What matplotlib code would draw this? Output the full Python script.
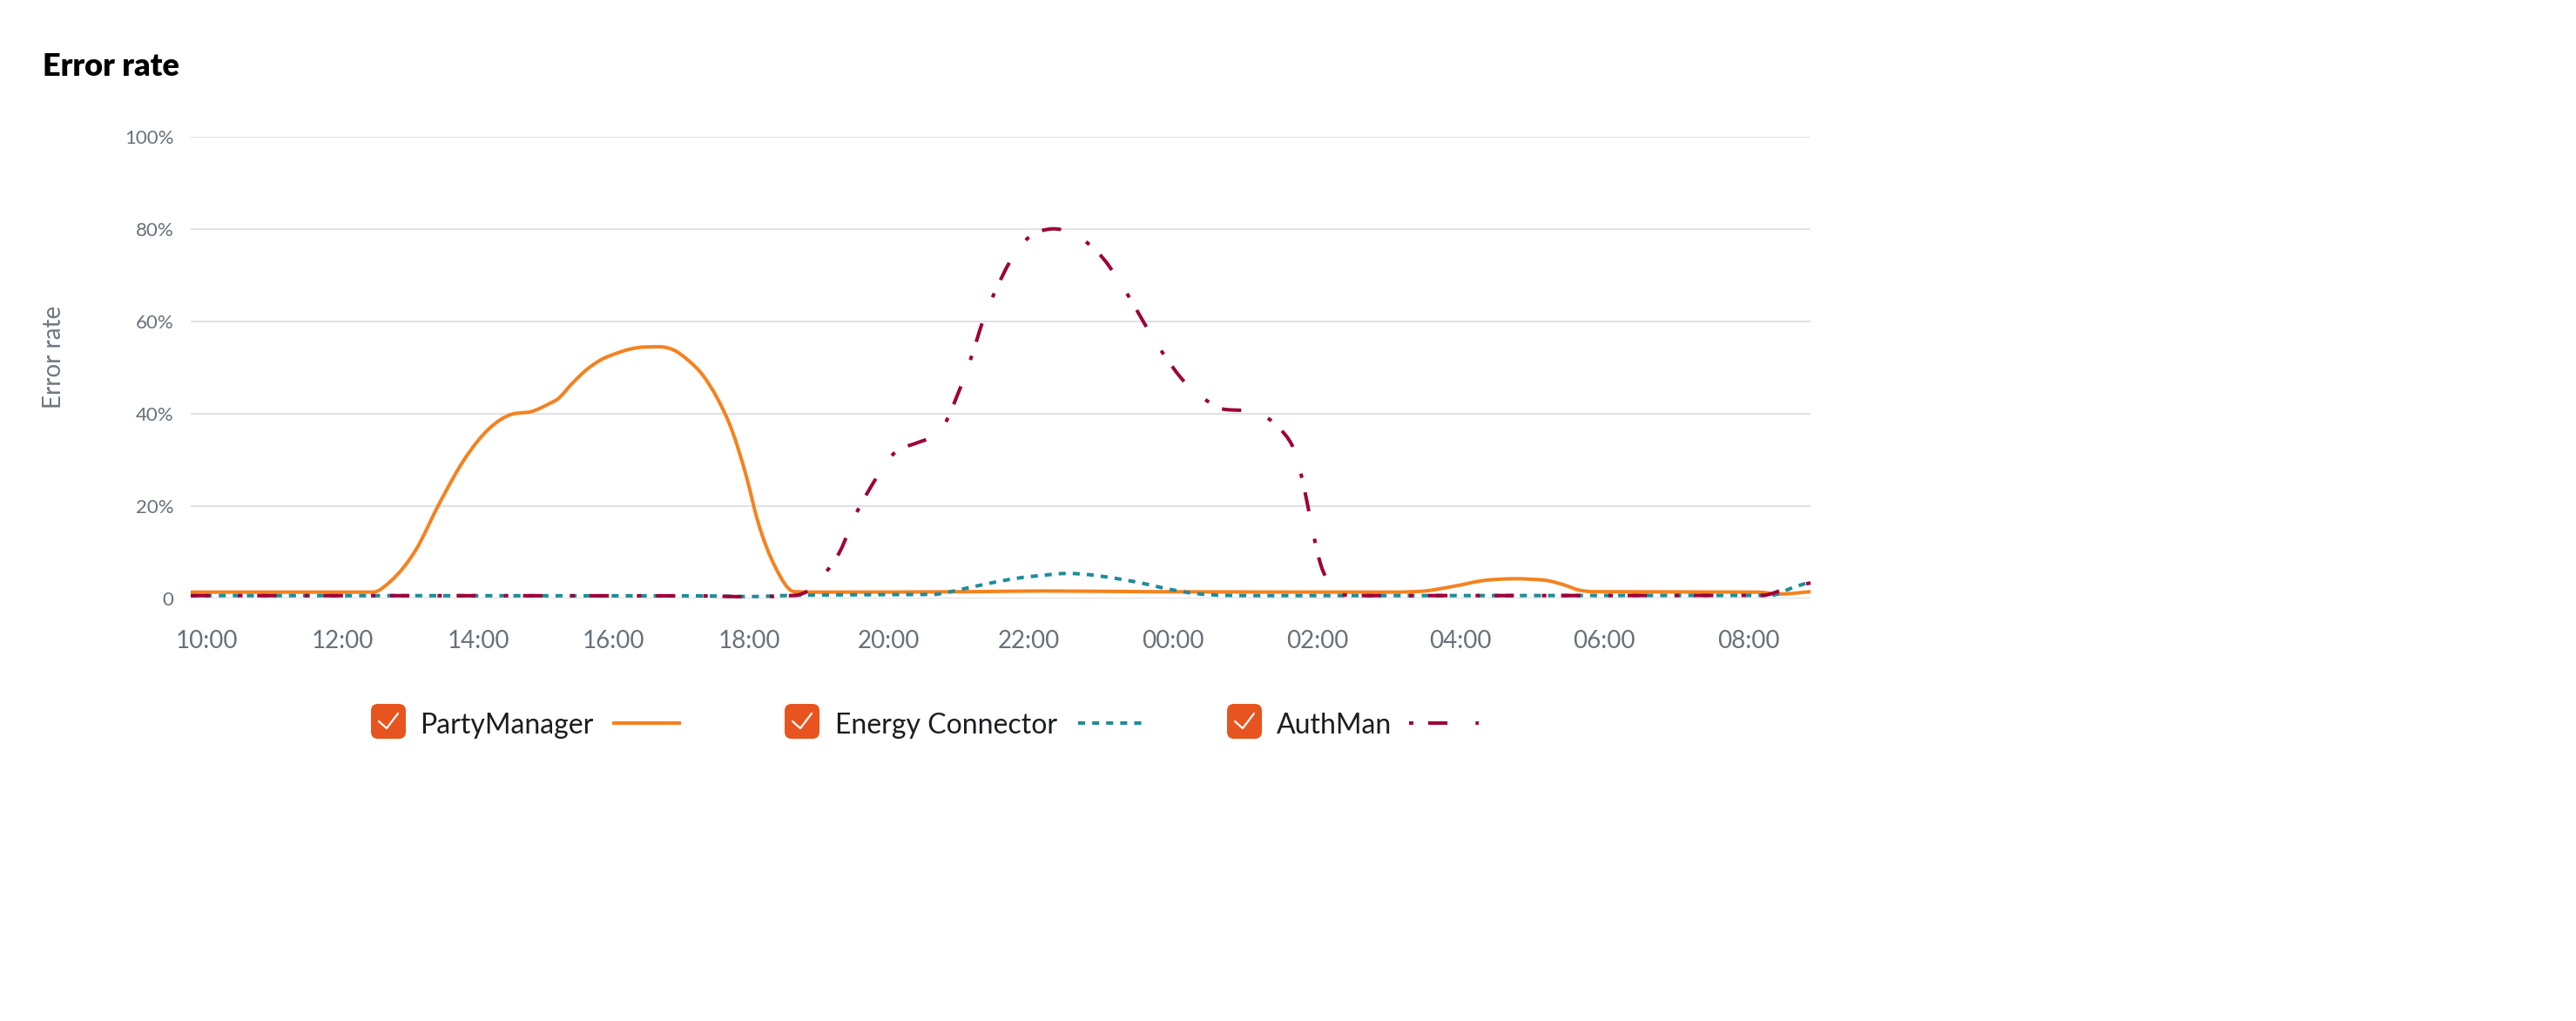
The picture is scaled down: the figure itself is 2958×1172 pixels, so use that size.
import numpy as np
import matplotlib.pyplot as plt
from matplotlib.path import Path
from matplotlib.patches import PathPatch, FancyBboxPatch

plt.rcParams['font.family'] = ['Lato', 'DejaVu Sans']

# x axis in "hours" after 10:00 (the original axis is not quite evenly spaced)
tick_pos = [0, 1.96, 3.9, 5.84, 7.79, 9.79, 11.81, 13.875, 15.95, 18.0, 20.06, 22.14]
tick_labels = ['10:00', '12:00', '14:00', '16:00', '18:00', '20:00',
               '22:00', '00:00', '02:00', '04:00', '06:00', '08:00']
y_ticks = [0, 20, 40, 60, 80, 100]
y_labels = ['0', '20%', '40%', '60%', '80%', '100%']
x_min, x_max = -0.225, 23.025

party_x = [-0.225, 2.39, 2.65, 3.0, 3.35, 3.7, 4.05, 4.4, 4.66, 4.93, 5.04, 5.25, 5.45,
           5.66, 5.87, 6.08, 6.29, 6.5, 6.7, 6.91, 7.12, 7.33, 7.54, 7.75, 7.91, 8.17,
           8.44, 8.75, 11.0, 12.0, 13.5, 17.04, 17.45, 17.88, 18.38, 18.79, 19.2, 19.5,
           19.7, 19.91, 22.25, 22.6, 23.025]
party_y = [1.3, 1.3, 3.75, 10.3, 20.7, 30, 36.6, 39.9, 40.4, 42.2, 43.1, 46.5, 49.4,
           51.6, 52.95, 53.95, 54.4, 54.45, 53.8, 51.6, 48.4, 43.4, 36.5, 26.4, 16.9, 6.6,
           1.4, 1.3, 1.4, 1.55, 1.4, 1.3, 1.5, 2.5, 3.9, 4.2, 3.9, 2.8,
           1.75, 1.4, 1.3, 0.9, 1.4]

energy_x = [-0.225, 7.0, 7.83, 8.4, 9.0, 10.45, 10.58, 10.79, 11.2, 11.63, 12.04, 12.35,
            12.58, 13.0, 13.41, 13.83, 14.2, 14.63, 15.1, 22.45, 22.79, 23.025]
energy_y = [0.55, 0.5, 0.35, 0.6, 0.7, 0.8, 1.1, 1.75, 3.1, 4.3, 5.0, 5.35,
            5.2, 4.4, 3.3, 1.9, 1.0, 0.6, 0.55, 0.6, 2.4, 3.5]

auth_x = [-0.225, 7.0, 7.83, 8.45, 8.68, 8.87, 9.1, 9.31, 9.53, 9.71, 9.88, 10.23, 10.5,
          10.78, 10.97, 11.18, 11.29, 11.59, 11.77, 11.97, 12.16, 12.41, 12.65, 12.94,
          13.09, 13.25, 13.46, 13.75, 14.03, 14.32, 14.61, 14.9, 15.18, 15.42, 15.66,
          15.8, 15.9, 15.99, 16.09, 16.23, 16.5, 22.33, 22.7, 23.025]
auth_y = [0.55, 0.5, 0.3, 0.6, 2.1, 5.2, 10.3, 17.8, 23.9, 28.2, 31.5, 33.8, 35.5,
          44, 51.8, 61.5, 65.4, 74.3, 77.7, 79.5, 80.0, 79.2, 76.9, 72.3,
          68.9, 65.1, 59.6, 52.6, 47, 43.2, 40.9, 40.6, 39.4, 36.6, 30,
          20.7, 13.1, 7.5, 3.8, 0.9, 0.55, 0.6, 2.2, 3.3]

series_names = ['PartyManager', 'Energy Connector', 'AuthMan']
colors = ['#F5821F', '#1F8C99', '#9E0038']
LW = 2.9
dash_styles = ['-', (0, (2.0, 2.0)), (0, (5.5, 8.0, 1.25, 4.2))]
legend_dash = ['-', (0, (2.0, 2.0)), (13.5, (5.5, 8.0, 1.25, 4.2))]


def spline_path(xs, ys):
    # monotone cubic (like a charting lib "spline") as bezier segments
    x = np.asarray(xs, float)
    y = np.asarray(ys, float)
    h = np.diff(x)
    s = np.diff(y) / h
    m = np.zeros_like(y)
    m[0], m[-1] = s[0], s[-1]
    for i in range(1, len(y) - 1):
        if s[i - 1] * s[i] <= 0:
            m[i] = 0
        else:
            p = (s[i - 1] * h[i] + s[i] * h[i - 1]) / (h[i - 1] + h[i])
            m[i] = np.sign(s[i]) * min(2 * abs(s[i - 1]), 2 * abs(s[i]), abs(p))
    verts = [(x[0], y[0])]
    codes = [Path.MOVETO]
    for i in range(len(h)):
        d = h[i] / 3
        verts += [(x[i] + d, y[i] + m[i] * d), (x[i + 1] - d, y[i + 1] - m[i + 1] * d),
                  (x[i + 1], y[i + 1])]
        codes += [Path.CURVE4] * 3
    return Path(verts, codes)


fig = plt.figure(figsize=(29.58, 11.72), dpi=100)
ax = fig.add_axes([219 / 2958, 1 - 686.6 / 1172, (2079 - 219) / 2958, (686.6 - 156.7) / 1172])

for yv in y_ticks:
    ax.axhline(yv, color='#E0E2E5', lw=1.5, zorder=0)

data = [(party_x, party_y), (energy_x, energy_y), (auth_x, auth_y)]
for (xs, ys), c, ls in zip(data, colors, dash_styles):
    patch = PathPatch(spline_path(xs, ys), facecolor='none', edgecolor=c, lw=LW,
                      linestyle=ls, clip_on=False, capstyle='butt')
    ax.add_patch(patch)

ax.set_xlim(x_min, x_max)
ax.set_ylim(0, 100)
ax.set_xticks(tick_pos)
ax.set_xticklabels(tick_labels)
ax.set_yticks(y_ticks)
ax.set_yticklabels(y_labels)
ax.tick_params(axis='x', length=0, pad=26, labelsize=20, labelcolor='#67717B')
ax.tick_params(axis='y', length=0, pad=14, labelsize=16, labelcolor='#67717B')
for sp in ax.spines.values():
    sp.set_visible(False)

# overlay in pixel units for title, axis label and legend
ov = fig.add_axes([0, 0, 1, 1])
ov.set_xlim(0, 2958)
ov.set_ylim(1172, 0)
ov.axis('off')

ov.text(49, 87, 'Error rate', fontsize=26, fontweight='heavy', color='#000000', va='baseline')
ov.text(62, 410, 'Error rate', fontsize=20, color='#6E7780',
        rotation=90, ha='center', va='center')

box_x = [426, 901, 1409]
text_x = [482, 959, 1466]
line_x = [(703, 782), (1238, 1317), (1618, 1698)]
for i in range(3):
    bx = box_x[i]
    ov.add_patch(FancyBboxPatch((bx, 808), 40, 40, boxstyle='round,pad=0,rounding_size=8',
                                facecolor='#E8541F', edgecolor='none'))
    ov.plot([bx + 9, bx + 18, bx + 31], [828, 836, 819], color='white', lw=1.6,
            solid_capstyle='round', solid_joinstyle='round')
    ov.text(text_x[i], 842, series_names[i], fontsize=23, color='#1B1D21', va='baseline')
    ov.plot(line_x[i], [830, 830], color=colors[i], lw=LW, linestyle=legend_dash[i],
            dash_capstyle='butt', solid_capstyle='butt')

fig.savefig('out.png', dpi=100)
